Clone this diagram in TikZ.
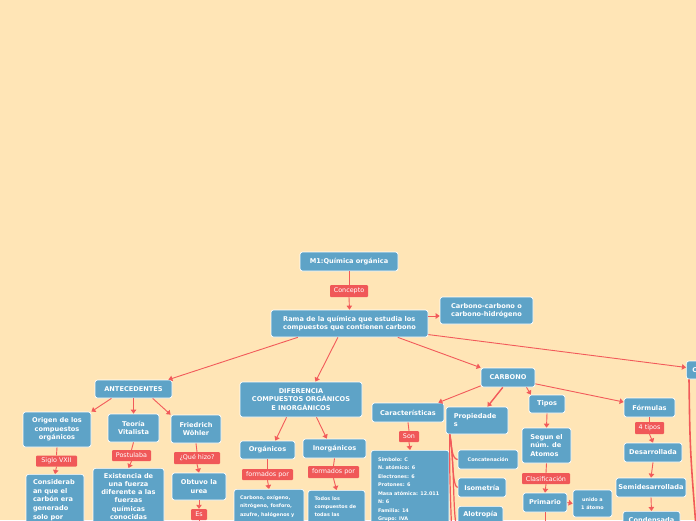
\documentclass[tikz,border=0pt]{standalone}
\usepackage{fontspec}
\setmainfont{DejaVu Sans}
\usetikzlibrary{arrows.meta}
\definecolor{bgc}{RGB}{255,229,182}
\definecolor{nblue}{RGB}{94,163,199}
\definecolor{lred}{RGB}{240,88,88}
\definecolor{cred}{RGB}{242,90,90}
\newcommand{\fntmain}{\fontsize{6.6}{8.6}\selectfont\bfseries}
\newcommand{\fntsmall}{\fontsize{4.9}{8.5}\selectfont\bfseries}
\newcommand{\fntlbl}{\fontsize{6.4}{7}\selectfont}
\begin{document}
\begin{tikzpicture}[x=1pt,y=-1pt,
 bx/.style={rounded corners=2.5pt, fill=nblue, draw=white, line width=0.7pt, text=white, font=\fntmain, inner sep=0pt, align=center},
 sz/.style 2 args={minimum width=#1pt, minimum height=#2pt},
 lb/.style={rounded corners=1pt, fill=lred, text=white, font=\fntlbl, inner sep=0pt},
 arr/.style={draw=cred, line width=0.9pt, -{Triangle[width=5.5pt,length=4pt]}},
 ln/.style={draw=cred, line width=0.9pt},
 br/.style={draw=cred, line width=1.2pt}]
\fill[bgc] (0,0) rectangle (696,520);
\useasboundingbox (0,0) rectangle (696,520);
\clip (0,0) rectangle (696,520);

% top
\node[bx, sz={98}{19}] (m1) at (349,261.5) {M1:Química orgánica};
\node[lb, sz={38}{12}] (concepto) at (349,291) {Concepto};
\node[bx, sz={157}{27}, align=left] (rama) at (349.5,323.5) {Rama de la química que estudia los\\compuestos que contienen carbono};
\node[bx, sz={93}{27}, align=left] (cc) at (486.5,310.5) {Carbono-carbono o\\carbono-hidrógeno};
\node[bx, anchor=west, minimum height=18pt, text width=24pt, align=left, inner xsep=6pt] (cn) at (686,370) {C};

% antecedentes
\node[bx, sz={77}{18}] (ante) at (133.5,389) {ANTECEDENTES};
\node[bx, sz={68}{35}] (origen) at (57,429.5) {Origen de los\\compuestos\\orgánicos};
\node[bx, sz={51}{28}] (teoria) at (133.5,428) {Teoría\\Vitalista};
\node[bx, sz={50}{28}] (fried) at (196,429) {Friedrich\\Wöhler};
\node[lb, sz={41}{11}] (siglo) at (56.5,461) {Siglo VXII};
\node[bx, anchor=north, minimum width=58pt, inner ysep=5pt] (consid) at (55,474)
  {\parbox[t][70pt][t]{44pt}{\raggedright\fontsize{6.6}{8.7}\selectfont Considerab\\an que el\\carbón era\\generado\\solo por}};
\node[lb, sz={39}{11}] (postul) at (131.5,455.5) {Postulaba};
\node[bx, anchor=north, minimum width=71pt, inner ysep=5pt] (exist) at (128.5,468)
  {\parbox[t][70pt][t]{66pt}{\centering\fontsize{6.6}{8.2}\selectfont Existencia de\\una fuerza\\diferente a las\\fuerzas\\químicas\\conocidas}};
\node[lb, sz={46}{12}] (quehizo) at (197,458) {¿Qué hizo?};
\node[bx, sz={54}{27}] (obtuvo) at (199,486.5) {Obtuvo la\\urea};
\node[lb, sz={16}{11}] (es) at (199,514.5) {Es};
\coordinate (esdown) at (199,540);

% diferencia
\node[bx, sz={122}{35}] (dif) at (301,399.5) {DIFERENCIA\\COMPUESTOS ORGÁNICOS\\E INORGÁNICOS};
\node[bx, sz={55}{18}] (org) at (267.5,450) {Orgánicos};
\node[bx, sz={63}{19}] (inorg) at (334.5,448.5) {Inorgánicos};
\node[lb, sz={51}{11}] (fpl) at (267.5,474.5) {formados por};
\node[lb, sz={51}{12}] (fpr) at (333.5,472) {formados por};
\node[bx, anchor=north, minimum width=70pt, inner ysep=6pt] (carbox) at (269,489)
  {\parbox[t][60pt][t]{58pt}{\raggedright\fntsmall\fontsize{4.9}{8.4}\selectfont Carbono, oxígeno,\\nitrógeno, fosforo,\\azufre, halógenos y}};
\node[bx, anchor=north, minimum width=57pt, inner ysep=6pt] (todos) at (336.5,490)
  {\parbox[t][60pt][t]{44pt}{\raggedright\fntsmall\fontsize{4.9}{8.4}\selectfont Todos los\\compuestos de\\todas las}};

% carbono
\node[bx, sz={54}{19}] (carbono) at (508,377.5) {CARBONO};
\node[bx, sz={72}{19}] (caract) at (408,412.5) {Características};
\node[bx, sz={62}{27}, align=left] (prop) at (477,420.5) {Propiedade\\s\phantom{propiedade}};
\node[bx, sz={36}{18}] (tipos) at (547,404) {Tipos};
\node[bx, sz={51}{19}] (form) at (649.5,407.5) {Fórmulas};
\node[lb, sz={29}{12}] (cuatro) at (649.5,428) {4 tipos};
\node[bx, sz={58}{19}] (desa) at (653,452.5) {Desarrollada};
\node[bx, sz={70}{19}] (semi) at (651,487.5) {Semidesarrollada};
\node[bx, anchor=north, minimum width=57pt, inner ysep=6pt] (cond) at (651.5,511)
  {\parbox[t][30pt][t]{50pt}{\centering Condensada}};
\node[lb, sz={20}{11}] (son) at (409,436.5) {Son};
\node[bx, anchor=north, minimum width=78pt, inner ysep=7pt] (simb) at (410,450)
  {\parbox[t][80pt][t]{64pt}{\raggedright\fntsmall\fontsize{4.9}{8.5}\selectfont Símbolo: C\\N. atómico: 6\\Electrones: 6\\Protones: 6\\Masa atómica: 12.011\\N: 6\\Familia: 14\\Grupo: IVA}};
\node[bx, sz={60}{19}, font=\fntsmall] (concat) at (488,459.5) {Concatenación};
\node[bx, sz={48}{19}] (iso) at (482,487.5) {Isometría};
\node[bx, anchor=north, minimum width=45pt, inner ysep=5pt] (alo) at (480.5,506)
  {\parbox[t][30pt][t]{40pt}{\centering Alotropía}};
\node[bx, sz={49}{35}, align=left] (segun) at (546.5,445.5) {Segun el\\núm. de\\Atomos};
\node[lb, sz={48}{11}] (clasif) at (546,478.5) {Clasificación};
\node[bx, sz={44}{19}] (prim) at (545,502.5) {Primario};
\node[bx, sz={39}{27}, font=\fntsmall] (unido) at (592.5,503.5) {unido a\\1 átomo};
\coordinate (primdown) at (545,540);
\coordinate (cbot) at (697,540);

% connectors
\draw[ln] (m1.south) -- (concepto.north);
\draw[arr] (concepto.south) -- (rama.north);
\coordinate (ccin) at ([yshift=-5.5pt]cc.west);
\draw[arr] (rama.east |- ccin) -- (ccin);
\draw[arr] (rama.-8) -- (cn.172);
\draw[arr] (rama.-165) -- (ante.15);
\draw[arr] (rama.-130) -- (dif.51);
\draw[arr] (rama.-16.5) -- (carbono.north west);

\draw[arr] (ante.-157) -- (origen.north east);
\draw[arr] (ante.south) -- (teoria.north);
\draw[arr] (ante.-26) -- (fried.north west);
\draw[ln] (origen.south) -- (siglo.north);
\draw[arr] (siglo.south) -- (consid.north);
\draw[ln] (teoria.south) -- (postul.north);
\draw[arr] (postul.south) -- (exist.north);
\draw[ln] (fried.south) -- (quehizo.north);
\draw[arr] (quehizo.south) -- (obtuvo.north);
\draw[arr] (obtuvo.south) -- (es.north);
\draw[ln] (es.south) -- (esdown);

\draw[arr] (dif.-129) -- (org.50);
\draw[arr] (dif.-49) -- (inorg.128);
\draw[ln] (org.south) -- (fpl.north);
\draw[arr] (fpl.south) -- (carbox.north);
\draw[ln] (inorg.south) -- (fpr.north);
\draw[arr] (fpr.south) -- (todos.north);

\draw[arr] (carbono.-163) -- (caract.18);
\draw[arr, line width=1.4pt] (carbono.-118) -- (prop.53);
\draw[arr] (carbono.-28) -- (tipos.150);
\draw[arr] (carbono.-13) -- (form.168);
\draw[ln] (caract.south) -- (son.north);
\draw[arr] (son.south) -- (simb.north);
\draw[arr] (tipos.south) -- (segun.north);
\draw[ln] (segun.south) -- (clasif.north);
\draw[arr] (clasif.south) -- (prim.north);
\draw[arr] (prim.east) -- (unido.west);
\draw[ln] (prim.south) -- (primdown);
\draw[ln] (form.south) -- (cuatro.north);
\draw[arr] (cuatro.south) -- (desa.north);
\draw[arr] (desa.south) -- (semi.north);
\draw[arr] (semi.south) -- (cond.north);

\draw[br] (prop.-153) .. controls (451,445) and (452,459.5) .. (concat.west);
\draw[br] (prop.-153) .. controls (453,450) and (452,487.5) .. (iso.west);
\draw[br] (prop.-153) .. controls (455,460) and (452,515) .. (alo.-165);
\draw[br] (prop.-153) .. controls (449,470) and (451,510) .. (452,540);
\draw[draw=cred, line width=1.6pt] ([xshift=3pt]cn.south west) .. controls (690,450) .. (cbot);
\end{tikzpicture}
\end{document}
